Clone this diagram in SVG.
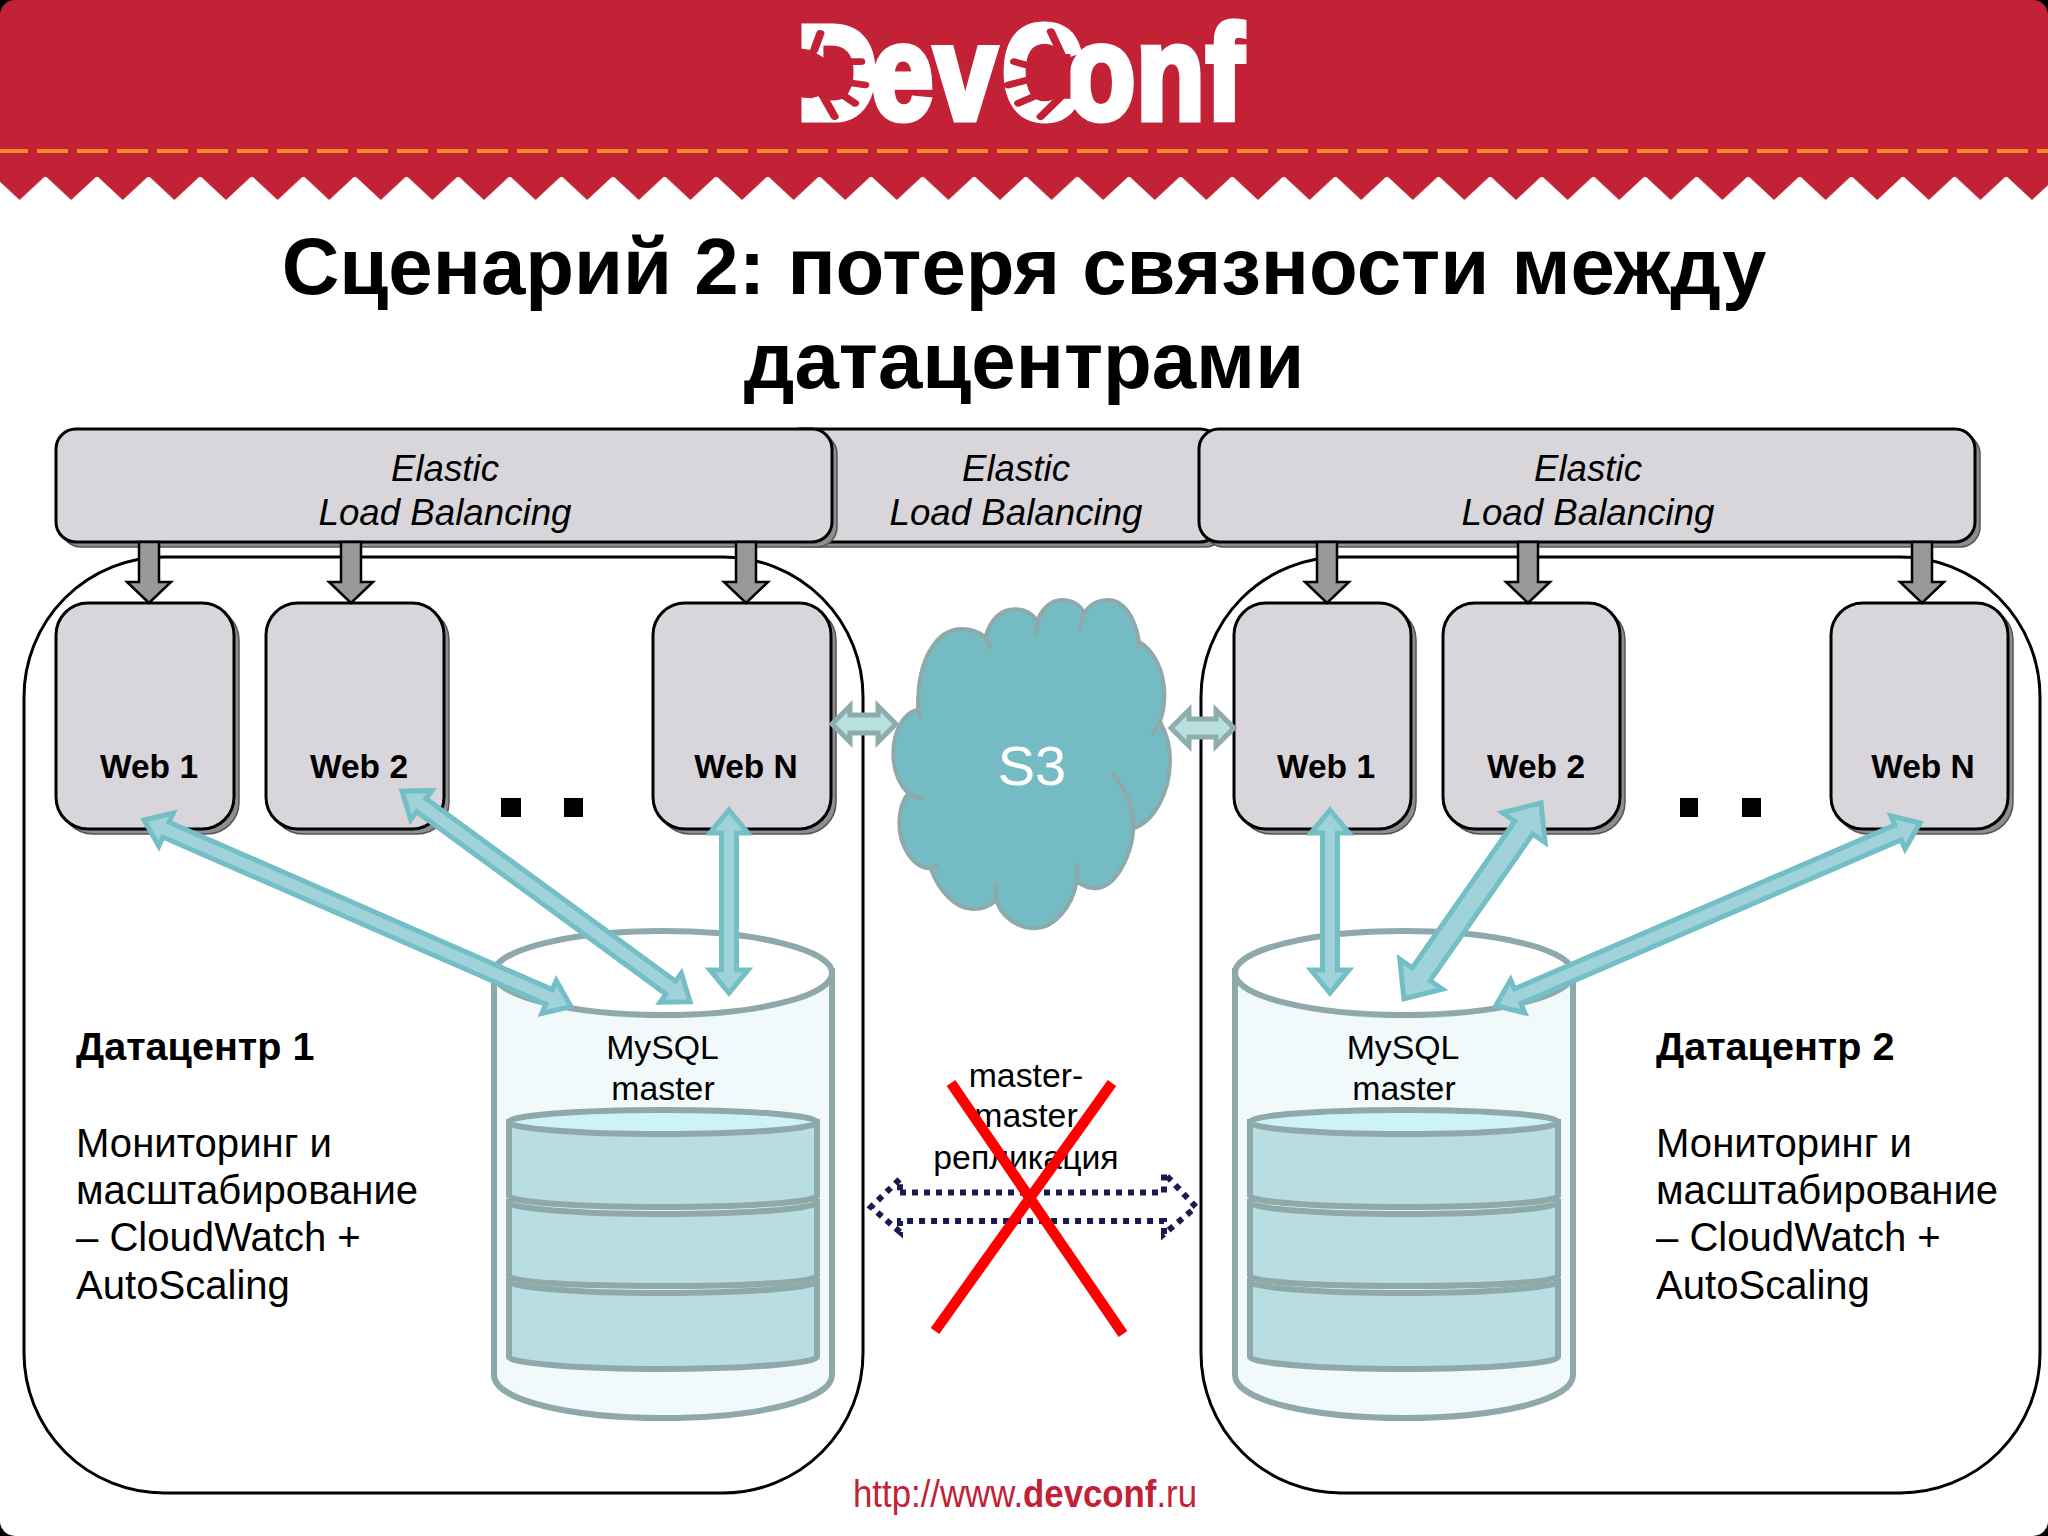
<svg xmlns="http://www.w3.org/2000/svg" width="2048" height="1536" viewBox="0 0 2048 1536">
<style>
text{font-family:"Liberation Sans",Arial,sans-serif;fill:#000}
.elb{fill:#d8d6da;stroke:#000;stroke-width:3}
.shadow{fill:#8e8e90;stroke:#555;stroke-width:1.5}
.dc{fill:#fff;stroke:#000;stroke-width:3}
.elbt{font-size:36.7px;font-style:italic;text-anchor:middle}
.web{font-size:33.5px;font-weight:bold;text-anchor:middle}
.down{fill:#999;stroke:#000;stroke-width:2.5}
.teal{fill:#a0d2da;stroke:#74bfc6;stroke-width:5;stroke-linejoin:miter}
.small{fill:#b8e0de;stroke:#8fadad;stroke-width:5}
.cyl{stroke:#8fa9ab;stroke-width:6}
.disk{fill:#b8dde2;stroke:#8fa9ab;stroke-width:6}
.gap{fill:#dff2f3;stroke:#8fa9ab;stroke-width:6}
.t33{font-size:33.8px;text-anchor:middle}
.h{font-size:39.6px;font-weight:bold}
.b{font-size:40.1px}
.finger{stroke:#c22136;stroke-width:20;stroke-linecap:round;fill:none}
</style>
<defs>
<pattern id="zig" patternUnits="userSpaceOnUse" x="-6.2" y="176" width="51.6" height="24"><path d="M0 0H51.6L25.8 24Z" fill="#c22136"/></pattern>
<g id="downarrow"><path class="down" d="M-10 0V40H-22L0 61L22 40H10V0Z"/></g>
<g id="cylinder">
<path class="cyl" fill="#f1f9fb" d="M-169 41V445C-169 471-90 488 0 488S169 471 169 445V41Z"/>
<ellipse class="cyl" fill="#fff" cx="0" cy="43" rx="169" ry="42"/>
<path class="disk" d="M-154 351V427C-154 433-85 439 0 439S154 433 154 427V351Z"/>
<ellipse class="gap" cx="0" cy="351" rx="154" ry="12"/>
<path class="disk" d="M-154 272V346C-154 352-85 356 0 356S154 352 154 346V272Z"/>
<ellipse class="gap" cx="0" cy="272" rx="154" ry="12"/>
<path class="disk" d="M-154 192V266C-154 272-85 277 0 277S154 272 154 266V192Z"/>
<ellipse class="cyl" fill="#cdf3f6" cx="0" cy="192" rx="154" ry="12"/>
</g>
<path id="corner" fill="#000" d="M0 0H15A15 15 0 0 0 0 15Z"/>
</defs>
<rect width="2048" height="1536" fill="#fff"/>
<g id="header">
<rect width="2048" height="177" fill="#c22136"/>
<rect y="176" width="2048" height="24" fill="url(#zig)"/>
<line x1="-3" y1="151" x2="2048" y2="151" stroke="#f28c28" stroke-width="4" stroke-dasharray="31 9"/>
<g id="logo">
<text transform="translate(797,119) scale(.83,1)" x="0 89.5 165.7 246.9 325.6 409 493" font-size="134" font-weight="bold" style="fill:#fff;stroke:#fff;stroke-width:7">DevConf</text>
<g transform="translate(700,0) scale(.408,.3333)">
<path fill="#c22136" d="M225 142L272 150L320 185V280L272 295L225 290Z"/>
<path class="finger" d="M280 150L295 100M310 185L395 185M320 240L405 255M320 260L380 310M300 285L330 350"/>
<path fill="#c22136" d="M850 162H908V296H856Z"/>
<path class="finger" d="M885 160L860 95M770 185L845 210M755 255L840 228M780 310L860 268M835 350L885 290"/>
</g>
</g>
</g>
<g id="title" font-weight="bold" text-anchor="middle" font-size="79.8">
<text x="1024" y="294">Сценарий 2: потеря связности между</text>
<text x="1024" y="388">датацентрами</text>
</g>
<g id="dc1"><rect class="dc" x="24" y="557" width="839" height="936" rx="140" ry="140"/>
<text class="h" x="76" y="1060">Датацентр 1</text>
<text class="b" x="76" y="1157">Мониторинг и</text><text class="b" x="76" y="1204">масштабирование</text><text class="b" x="76" y="1251">– CloudWatch +</text><text class="b" x="76" y="1299">AutoScaling</text></g>
<g id="dc2"><rect class="dc" x="1201" y="557" width="839" height="936" rx="140" ry="140"/>
<text class="h" x="1656" y="1060">Датацентр 2</text>
<text class="b" x="1656" y="1157">Мониторинг и</text><text class="b" x="1656" y="1204">масштабирование</text><text class="b" x="1656" y="1251">– CloudWatch +</text><text class="b" x="1656" y="1299">AutoScaling</text></g>
<g id="elb-mid"><rect class="shadow" x="785" y="434" width="440" height="113" rx="20"/><rect class="elb" x="780" y="429" width="440" height="113" rx="20"/>
<text class="elbt" x="1016" y="481">Elastic</text><text class="elbt" x="1016" y="525">Load Balancing</text></g>
<g id="elb-left"><rect class="shadow" x="61" y="434" width="776" height="113" rx="20"/><rect class="elb" x="56" y="429" width="776" height="113" rx="20"/>
<text class="elbt" x="445" y="481">Elastic</text><text class="elbt" x="445" y="525">Load Balancing</text></g>
<g id="elb-right"><rect class="shadow" x="1204" y="434" width="776" height="113" rx="20"/><rect class="elb" x="1199" y="429" width="776" height="113" rx="20"/>
<text class="elbt" x="1588" y="481">Elastic</text><text class="elbt" x="1588" y="525">Load Balancing</text></g>
<g id="web-1-1"><rect class="shadow" x="61" y="608" width="178" height="226" rx="32"/><rect class="elb" x="56" y="603" width="178" height="226" rx="32"/><text class="web" x="149" y="778">Web 1</text></g>
<g id="web-1-2"><rect class="shadow" x="271" y="608" width="178" height="226" rx="32"/><rect class="elb" x="266" y="603" width="178" height="226" rx="32"/><text class="web" x="359" y="778">Web 2</text></g>
<g id="web-1-n"><rect class="shadow" x="658" y="608" width="178" height="226" rx="32"/><rect class="elb" x="653" y="603" width="178" height="226" rx="32"/><text class="web" x="746" y="778">Web N</text></g>
<g id="web-2-1"><rect class="shadow" x="1239" y="608" width="177" height="226" rx="32"/><rect class="elb" x="1234" y="603" width="177" height="226" rx="32"/><text class="web" x="1326" y="778">Web 1</text></g>
<g id="web-2-2"><rect class="shadow" x="1448" y="608" width="177" height="226" rx="32"/><rect class="elb" x="1443" y="603" width="177" height="226" rx="32"/><text class="web" x="1536" y="778">Web 2</text></g>
<g id="web-2-n"><rect class="shadow" x="1836" y="608" width="177" height="226" rx="32"/><rect class="elb" x="1831" y="603" width="177" height="226" rx="32"/><text class="web" x="1923" y="778">Web N</text></g>
<g id="dots" fill="#000"><rect x="501" y="798" width="20" height="19"/><rect x="564" y="798" width="19" height="19"/><rect x="1680" y="798" width="18" height="19"/><rect x="1742" y="798" width="19" height="19"/></g>
<g id="db1"><use href="#cylinder" x="663" y="930"/><text class="t33" x="662.500" y="1059">MySQL</text><text class="t33" x="663" y="1100">master</text></g>
<g id="db2"><use href="#cylinder" x="1404" y="930"/><text class="t33" x="1403" y="1059">MySQL</text><text class="t33" x="1404" y="1100">master</text></g>
<g id="s3"><g transform="translate(800,580) scale(.33333)">
<path fill="#74bbc4" stroke="#8fa9ab" stroke-width="12" d="M355 385C350 240 410 147 485 147C515 147 540 158 556 172C575 110 610 88 645 88C680 88 700 105 712 125C725 85 755 60 785 60C815 60 840 75 853 100C870 72 895 60 925 60C970 60 1005 110 1017 185C1060 210 1092 270 1093 340C1094 370 1090 395 1080 425C1100 460 1110 500 1110 540C1110 640 1060 725 1000 745C995 830 945 925 885 925C865 925 845 915 830 905C815 985 760 1045 705 1045C650 1045 600 1005 590 960C570 978 545 987 520 987C465 987 415 930 392 865C340 865 298 800 298 730C298 695 305 665 325 640C295 610 280 570 280 520C280 460 305 400 355 388Z"/>
<path fill="none" stroke="#8fa9ab" stroke-width="12" d="M360 418C355 400 352 385 355 350M556 172Q565 185 575 208M712 125Q710 145 708 165M853 100Q845 125 838 148M1017 185L1015 205M1080 425Q1070 445 1055 465M935 580C975 620 1000 680 1000 745M830 905L832 848M590 960L585 908M392 865L415 852M325 640Q345 655 372 656"/>
</g><text x="1032" y="785" font-size="56" text-anchor="middle" style="fill:#fff">S3</text></g>
<g id="connectors">
<use href="#downarrow" x="149" y="542"/><use href="#downarrow" x="351" y="542"/><use href="#downarrow" x="746" y="542"/>
<use href="#downarrow" x="1327" y="542"/><use href="#downarrow" x="1528" y="542"/><use href="#downarrow" x="1922" y="542"/>
<path class="small" d="M832 724L850 706V715H878V706L896 724L878 742V733H850V742Z"/>
<path class="small" d="M1171 728L1189 710V719H1216V710L1234 728L1216 746V737H1189V746Z"/>
<path class="teal" transform="translate(144,820) rotate(23.6)" d="M0 0L24-18V-8H442V-18L466 0L442 18V8H24V18Z"/>
<path class="teal" transform="translate(402,791) rotate(36.2)" d="M0 0L24-18V-8H333V-18L357 0L333 18V8H24V18Z"/>
<path class="teal" transform="translate(729,810) rotate(90)" d="M0 0L23-19V-7.500H160V-19L183 0L160 19V7.500H23V19Z"/>
<path class="teal" transform="translate(1330,810) rotate(90)" d="M0 0L23-19V-7.500H160V-19L183 0L160 19V7.500H23V19Z"/>
<path class="teal" transform="translate(1541,803) rotate(125)" d="M0 0L30-26V-11H209V-26L239 0L209 26V11H30V26Z"/>
<path class="teal" transform="translate(1920,823) rotate(156.7)" d="M0 0L24-18V-8H438V-18L462 0L438 18V8H24V18Z"/>
<path fill="none" stroke="#1a1a50" stroke-width="6" stroke-dasharray="6 6" d="M900 1192.500H1164V1173L1196 1207L1164 1234V1221H900V1232L871 1207L900 1179Z"/>
</g>
<g id="replication">
<text class="t33" x="1026" y="1087">master-</text><text class="t33" x="1026" y="1127">master</text><text class="t33" x="1026" y="1169">репликация</text>
<path stroke="#f00" stroke-width="10.500" fill="none" d="M951 1083L1123 1334M1112 1083L935 1331"/>
</g>
<text id="url" x="853" y="1507" font-size="39" textLength="344" lengthAdjust="spacingAndGlyphs" style="fill:#c22136">http://www.<tspan font-weight="bold">devconf</tspan>.ru</text>
<g id="corners"><use href="#corner"/><use href="#corner" transform="translate(2048,0) scale(-1,1)"/><use href="#corner" transform="translate(0,1536) scale(1,-1)"/><use href="#corner" transform="translate(2048,1536) scale(-1,-1)"/></g>
</svg>
